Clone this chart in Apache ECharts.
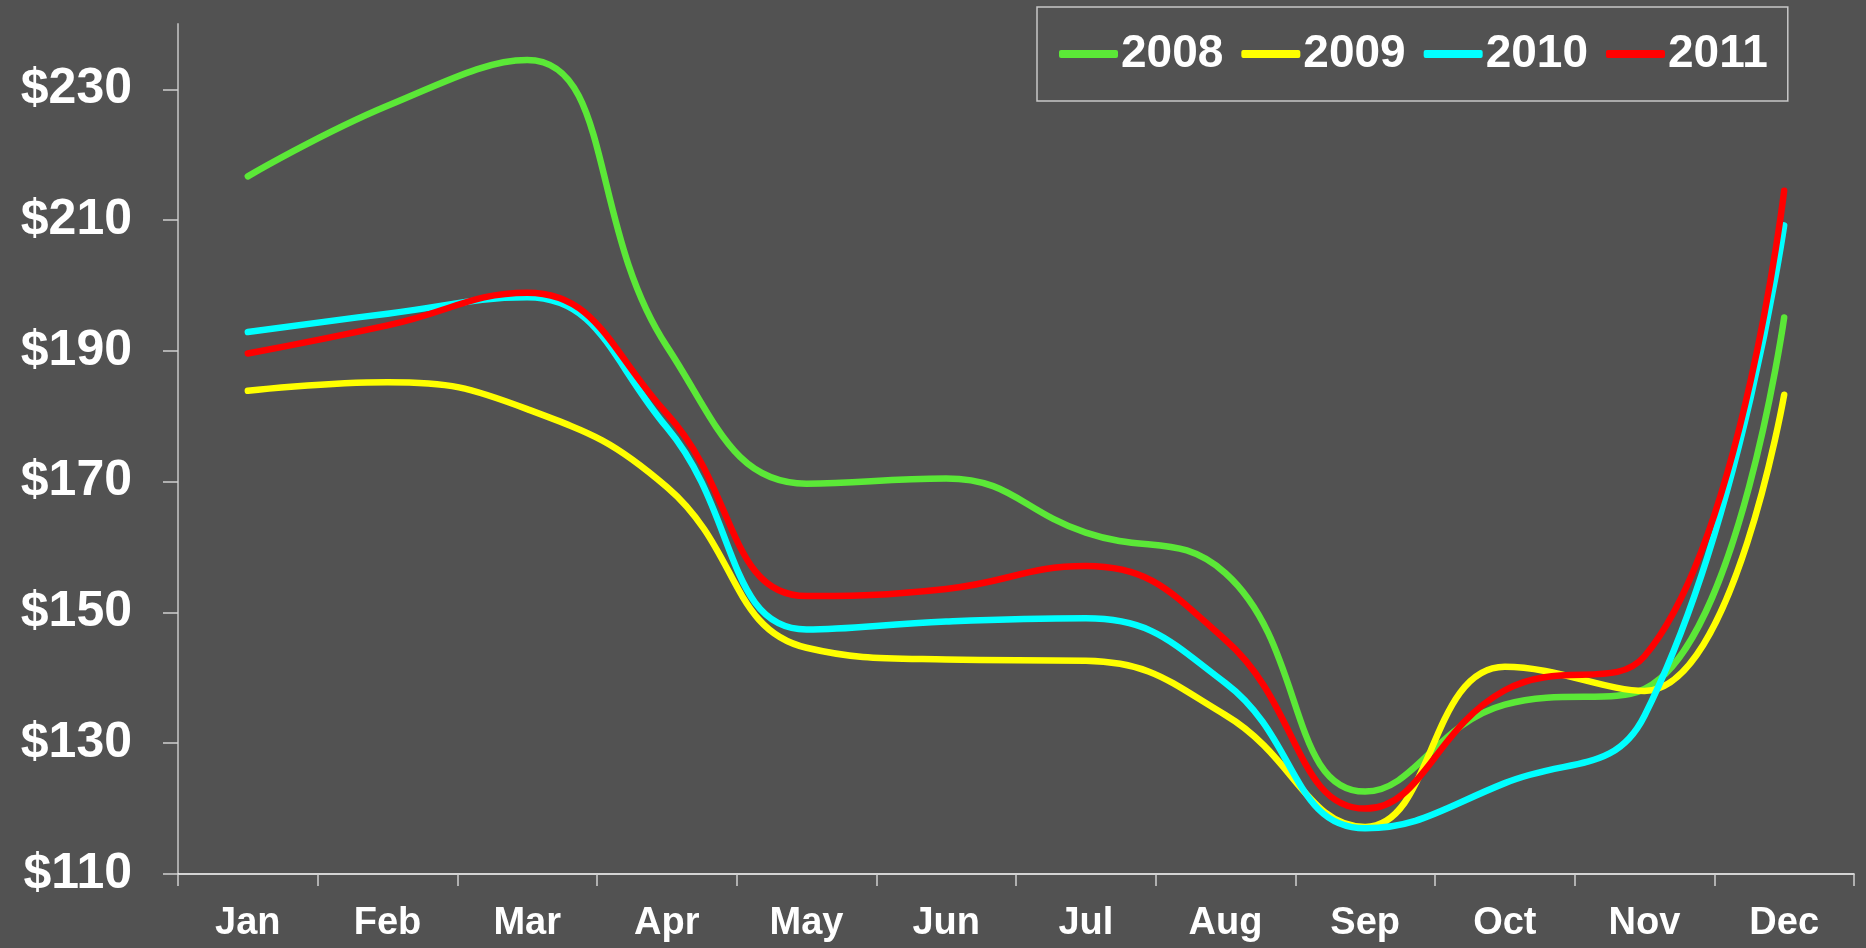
<!DOCTYPE html>
<html>
<head>
<meta charset="utf-8">
<title>Monthly price by year</title>
<script src="https://cdn.jsdelivr.net/npm/echarts@6/dist/echarts.min.js"></script>
<style>
  html, body { margin: 0; padding: 0; background: #525252; }
  #chart { width: 1866px; height: 948px; }
</style>
</head>
<body>
<div id="chart"></div>
<script>
// categories / tick values
var months = ['Jan', 'Feb', 'Mar', 'Apr', 'May', 'Jun', 'Jul', 'Aug', 'Sep', 'Oct', 'Nov', 'Dec'];
var yTicks = [110, 130, 150, 170, 190, 210, 230];

// series values
var data2008 = [216.7, 227.5, 234.5, 190.7, 169.7, 170.5, 162.2, 156.0, 122.6, 135.9, 138.3, 195.1];
var data2009 = [183.9, 185.2, 181.1, 169.2, 144.6, 142.8, 142.6, 134.3, 117.2, 141.7, 138.0, 183.3];
var data2010 = [192.9, 195.7, 198.2, 178.3, 147.4, 148.6, 149.1, 139.2, 117.0, 123.9, 134.2, 209.2];
var data2011 = [189.6, 193.9, 198.9, 180.4, 152.5, 153.6, 157.1, 145.8, 120.0, 138.1, 143.3, 214.5];

var seriesNames = ['2008', '2009', '2010', '2011'];
var seriesColors = ['#5BE837', '#FFFF00', '#00FFFF', '#FF0000'];
var seriesData = [data2008, data2009, data2010, data2011];

var fontFamily = '"Liberation Sans", Arial, Helvetica, sans-serif';

var chart = echarts.init(document.getElementById('chart'));

var option = {
  backgroundColor: '#525252',
  animation: false,
  color: seriesColors,
  legend: {
    left: 1037,
    top: 7,
    orient: 'horizontal',
    itemWidth: 59,
    itemHeight: 8,
    itemGap: 18,
    icon: 'roundRect',
    padding: [24, 20, 24, 22],
    borderColor: '#c8c8c8',
    borderWidth: 1.5,
    data: seriesNames,
    textStyle: {
      color: '#ffffff',
      fontSize: 46,
      fontWeight: 'bold',
      fontFamily: fontFamily,
      padding: [0, 0, 0, -2]
    }
  },
  grid: {
    left: 178,
    right: 12,
    top: 24,
    bottom: 74,
    containLabel: false
  },
  xAxis: {
    type: 'category',
    boundaryGap: true,
    data: months,
    axisLine: {
      lineStyle: { color: '#ffffff', width: 1.5 }
    },
    axisTick: {
      show: true,
      length: 12,
      lineStyle: { color: '#cfcfcf', width: 1.5 }
    },
    axisLabel: {
      margin: 31,
      color: '#ffffff',
      fontSize: 38,
      fontWeight: 'bold',
      fontFamily: fontFamily
    },
    splitLine: { show: false }
  },
  yAxis: {
    type: 'value',
    min: 110,
    max: 240,
    interval: 20,
    axisLine: {
      show: true,
      lineStyle: { color: '#aaaaaa', width: 2 }
    },
    axisTick: {
      show: true,
      length: 15,
      customValues: yTicks,
      lineStyle: { color: '#cfcfcf', width: 1.5 }
    },
    axisLabel: {
      margin: 46,
      customValues: yTicks,
      color: '#ffffff',
      fontSize: 50,
      fontWeight: 'bold',
      fontFamily: fontFamily,
      formatter: function (v) { return '$' + v; }
    },
    splitLine: { show: false }
  },
  series: seriesNames.map(function (name, i) {
    return {
      name: name,
      type: 'line',
      data: seriesData[i],
      smooth: 0.45,
      symbol: 'none',
      lineStyle: {
        color: seriesColors[i],
        width: 6.5,
        cap: 'round',
        join: 'round'
      },
      itemStyle: { color: seriesColors[i] }
    };
  })
};

chart.setOption(option);
</script>
</body>
</html>
